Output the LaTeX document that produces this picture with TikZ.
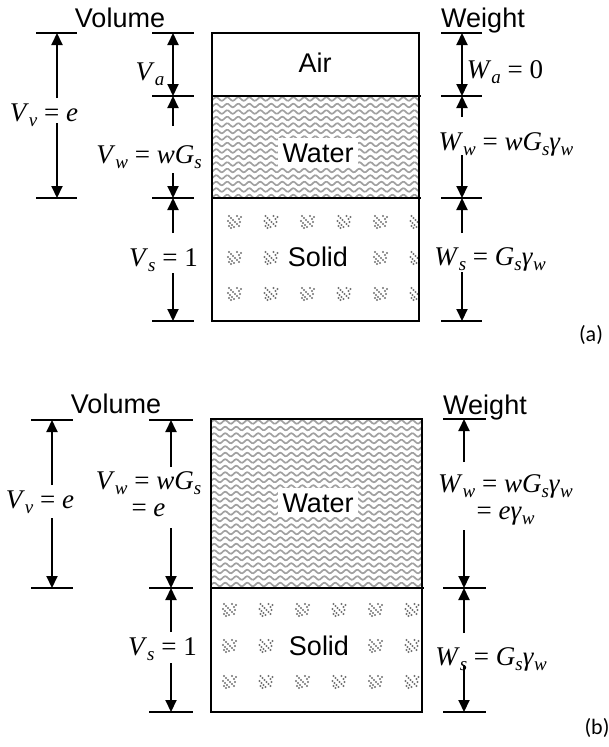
\documentclass[tikz,border=0pt]{standalone}
\usepackage{fontspec}
\setmainfont{Liberation Sans}
\newfontfamily\tmsfont{Liberation Serif}
\newfontfamily\capfont{Carlito}
\usetikzlibrary{arrows.meta}
\newcommand\mi[1]{\textit{#1}}
\newcommand\lsub[1]{\raisebox{-5pt}{\fontsize{19}{19}\selectfont\itshape #1}}
\tikzset{
  boxline/.style={line width=2.2pt},
  divline/.style={line width=1.4pt},
  tickline/.style={line width=1.6pt},
  dimone/.style={line width=2pt,-{Triangle[length=12pt,width=11pt]}},
  dimtwo/.style={line width=2pt,{Triangle[length=12pt,width=11pt]}-{Triangle[length=12pt,width=11pt]}},
  sanslab/.style={font=\fontsize{27}{30}\selectfont, inner sep=0pt},
  fillab/.style={sanslab, fill=white, inner xsep=4pt, inner ysep=5pt},
  mathlab/.style={font=\tmsfont\fontsize{27}{25}\selectfont, inner sep=0pt, align=center},
  caplab/.style={font=\capfont\fontsize{22}{24}\selectfont, inner sep=0pt},
  wave/.style={line width=1.7pt, color=black!37},
  markc/.style={fill=black!55},
  smark/.pic={
    \foreach \dx/\dy in {-6/-6,-4/-4,-2/-2,0/0,2/2,4/4,-7/-1,-5/1,-3/3,-1/5,-6/4,-4/6,2/-6,4/-3,5/0,6/-5}
      \fill[markc] (\dx,\dy) circle (1.1);
  }
}
\begin{document}
\begin{tikzpicture}[x=1pt,y=-1pt]
\useasboundingbox (0,0) rectangle (609,747);

%================ (a) =================
% water pattern
\begin{scope}
  \clip (212,96) rectangle (419,198);
  \foreach \r in {99,105.5,...,198}
    \draw[wave] plot[domain=0:215, samples=140, smooth] ({208+\x},{\r+1.8*sin(\x*32.7)});
\end{scope}
% solid pattern
\begin{scope}
  \clip (212,198) rectangle (419,321);
  \foreach \c in {235,271.5,308,344.5,381,417.5}
    \foreach \r in {222,258,294}
      \pic at (\c,\r) {smark};
\end{scope}
% box
\draw[boxline] (212,33) rectangle (419,321);
\draw[divline] (212,96) -- (421,96);
\draw[divline] (212,198) -- (421,198);
\node[sanslab, anchor=base] (aair) at (315,72) {Air};
\node[fillab, anchor=base] (awater) at (318,162) {Water};
\node[fillab, anchor=base] (asolid) at (318,266) {Solid};

% headings
\node[sanslab, anchor=base] (avol) at (120,27) {Volume};
\node[sanslab, anchor=base] (awt) at (483,27) {Weight};

% outer left ticks/arrow
\coordinate (aO1) at (57,33); \coordinate (aO2) at (57,198);
\coordinate (aOg1) at (57,98); \coordinate (aOg2) at (57,123);
\draw[tickline] (36,33) -- (77,33);
\draw[tickline] (36,198) -- (77,198);
\draw[dimone] (aOg1) -- (aO1);
\draw[dimone] (aOg2) -- (aO2);
\node[mathlab, anchor=base] (aVv) at (44,121) {\mi{V}\lsub{v} = \mi{e}};

% inner left
\coordinate (aI1) at (173,33); \coordinate (aI2) at (173,96);
\coordinate (aI3) at (173,198); \coordinate (aI4) at (173,321);
\coordinate (aIg1) at (173,126); \coordinate (aIg2) at (173,173);
\coordinate (aIg3) at (173,233); \coordinate (aIg4) at (173,273);
\foreach \yy in {33,96,198,321} \draw[tickline] (152,\yy) -- (194,\yy);
\draw[dimtwo] (aI1) -- (aI2);
\draw[dimone] (aIg1) -- (aI2);
\draw[dimone] (aIg2) -- (aI3);
\draw[dimone] (aIg3) -- (aI3);
\draw[dimone] (aIg4) -- (aI4);
\node[mathlab, anchor=base] (aVa) at (150,80) {\mi{V}\lsub{a}};
\node[mathlab, anchor=base] (aVw) at (149,163) {\mi{V}\lsub{w} = \mi{wG}\lsub{s}};
\node[mathlab, anchor=base] (aVs) at (163.5,266) {\mi{V}\lsub{s} = 1};

% right
\coordinate (aR1) at (462,33); \coordinate (aR2) at (462,96);
\coordinate (aR3) at (462,198); \coordinate (aR4) at (462,321);
\coordinate (aRg1) at (462,117); \coordinate (aRg2) at (462,155);
\coordinate (aRg3) at (462,233); \coordinate (aRg4) at (462,272);
\foreach \yy in {33,96,198,321} \draw[tickline] (441,\yy) -- (482,\yy);
\draw[dimtwo] (aR1) -- (aR2);
\draw[dimone] (aRg1) -- (aR2);
\draw[dimone] (aRg2) -- (aR3);
\draw[dimone] (aRg3) -- (aR3);
\draw[dimone] (aRg4) -- (aR4);
\node[mathlab, anchor=base] (aWa) at (505,78) {\mi{W}\lsub{a} = 0};
\node[mathlab, anchor=base] (aWw) at (506,150) {\mi{W}\lsub{w} = \mi{wG}\lsub{s}\mi{γ}\lsub{w}};
\node[mathlab, anchor=base] (aWs) at (490,265) {\mi{W}\lsub{s} = \mi{G}\lsub{s}\mi{γ}\lsub{w}};
\node[caplab] (acap) at (591,335) {(a)};

%================ (b) =================
\begin{scope}
  \clip (211,419) rectangle (422,588);
  \foreach \r in {422,428.5,...,588}
    \draw[wave] plot[domain=0:220, samples=140, smooth] ({206+\x},{\r+1.8*sin(\x*32.7)});
\end{scope}
\begin{scope}
  \clip (211,588) rectangle (422,712);
  \foreach \c in {230,266.5,303,339.5,376,412.5}
    \foreach \r in {610,646,682,718}
      \pic at (\c,\r) {smark};
\end{scope}
\draw[boxline] (211,419) rectangle (422,712);
\draw[divline] (211,588) -- (424,588);
\node[fillab, anchor=base] (bwater) at (318,512) {Water};
\node[fillab, anchor=base] (bsolid) at (319,655) {Solid};

\node[sanslab, anchor=base] (bvol) at (116,413) {Volume};
\node[sanslab, anchor=base] (bwt) at (485,414) {Weight};

% outer left
\coordinate (bO1) at (52,420); \coordinate (bO2) at (52,588);
\coordinate (bOg1) at (52,485); \coordinate (bOg2) at (52,518);
\draw[tickline] (31,420) -- (73,420);
\draw[tickline] (31,588) -- (73,588);
\draw[dimone] (bOg1) -- (bO1);
\draw[dimone] (bOg2) -- (bO2);
\node[mathlab, anchor=base] (bVv) at (40,508) {\mi{V}\lsub{v} = \mi{e}};

% inner left
\coordinate (bI1) at (171,420); \coordinate (bI2) at (171,588); \coordinate (bI3) at (171,712);
\coordinate (bIg1) at (171,467); \coordinate (bIg2) at (171,528);
\coordinate (bIg3) at (171,632); \coordinate (bIg4) at (171,663);
\foreach \yy in {420,588,712} \draw[tickline] (149,\yy) -- (193,\yy);
\draw[dimone] (bIg1) -- (bI1);
\draw[dimone] (bIg2) -- (bI2);
\draw[dimone] (bIg3) -- (bI2);
\draw[dimone] (bIg4) -- (bI3);
\node[mathlab] (bVw) at (148.5,494) {\mi{V}\lsub{w} = \mi{wG}\lsub{s}\\[2pt] = \mi{e}};
\node[mathlab, anchor=base] (bVs) at (162.5,655) {\mi{V}\lsub{s} = 1};

% right
\coordinate (bR1) at (464,419); \coordinate (bR2) at (464,588); \coordinate (bR3) at (464,712);
\coordinate (bRg1) at (464,462); \coordinate (bRg2) at (464,530);
\coordinate (bRg3) at (464,633); \coordinate (bRg4) at (464,665);
\foreach \yy in {419,588,712} \draw[tickline] (443,\yy) -- (486,\yy);
\draw[dimone] (bRg1) -- (bR1);
\draw[dimone] (bRg2) -- (bR2);
\draw[dimone] (bRg3) -- (bR2);
\draw[dimone] (bRg4) -- (bR3);
\node[mathlab] (bWw) at (505.5,500) {\mi{W}\lsub{w} = \mi{wG}\lsub{s}\mi{γ}\lsub{w}\\[2pt] = \mi{eγ}\lsub{w}};
\node[mathlab, anchor=base] (bWs) at (491,665) {\mi{W}\lsub{s} = \mi{G}\lsub{s}\mi{γ}\lsub{w}};
\node[caplab] (bcap) at (597,728) {(b)};
\end{tikzpicture}
\end{document}
